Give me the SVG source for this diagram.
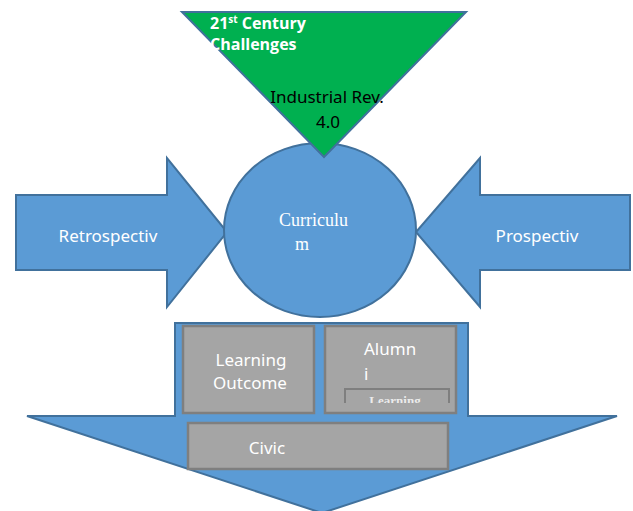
<svg xmlns="http://www.w3.org/2000/svg" width="633" height="511" viewBox="0 0 633 511">
<style>
.blue{fill:#5B9BD5;stroke:#41719C;stroke-width:2;stroke-linejoin:miter}
.gray{fill:#A5A5A5;stroke:#7F7F7F;stroke-width:2.5}
.t{font-family:"Noto Sans","Open Sans","Liberation Sans",sans-serif;font-size:17px;fill:#FFFFFF}
.serif{font-family:"Liberation Serif","DejaVu Serif",serif;fill:#FFFFFF}
</style>
<defs>
<clipPath id="clipLearn"><rect x="340" y="384" width="115" height="19"/></clipPath>
</defs>
<g id="connectors"/>
<g id="retrospective">
<polygon class="blue" points="16,195 167,195 167,158 227,232 167,307 167,270 16,270"/>
<text class="t" x="108" y="242" text-anchor="middle">Retrospectiv</text>
</g>
<g id="prospective">
<polygon class="blue" points="630,195 480,195 480,158 416,232 480,307 480,270 630,270"/>
<text class="t" x="537" y="242" text-anchor="middle">Prospectiv</text>
</g>
<g id="curriculum">
<ellipse class="blue" cx="320" cy="230" rx="96" ry="87"/>
<text class="serif" font-size="18" x="279" y="226">Curriculu</text>
<text class="serif" font-size="18" x="295" y="250">m</text>
</g>
<g id="challenges">
<polygon points="182,12 466,12 324,157" fill="#00B050" stroke="#41719C" stroke-width="2"/>
<text font-family="'Open Sans','Noto Sans','Liberation Sans',sans-serif" font-weight="bold" font-size="16" fill="#FFFFFF" x="210" y="29">21<tspan font-size="10" dy="-6">st</tspan><tspan dy="6"> Century</tspan></text>
<text font-family="'Open Sans','Noto Sans','Liberation Sans',sans-serif" font-weight="bold" font-size="16" fill="#FFFFFF" x="210" y="50">Challenges</text>
<text class="t" style="fill:#000000" x="327" y="103" text-anchor="middle">Industrial Rev.</text>
<text class="t" style="fill:#000000" x="328" y="128" text-anchor="middle">4.0</text>
</g>
<g id="outcomes-arrow">
<polygon class="blue" points="175,323 468,323 468,416 617,416 322,513 27,416 175,416"/>
</g>
<g id="learning-outcome">
<rect class="gray" x="183" y="326" width="131" height="87"/>
<text class="t" x="251" y="366" text-anchor="middle">Learning</text>
<text class="t" x="250" y="389" text-anchor="middle">Outcome</text>
</g>
<g id="alumni">
<rect class="gray" x="325" y="326" width="131" height="87"/>
<text class="t" x="364" y="355">Alumn</text>
<text class="t" x="364" y="380">i</text>
<g clip-path="url(#clipLearn)">
<polyline points="345,403 345,389 449,389 449,403" fill="none" stroke="#7F7F7F" stroke-width="2"/>
<text class="serif" font-size="13" font-weight="bold" x="395" y="405" text-anchor="middle" fill-opacity="0.8">Learning</text>
</g>
</g>
<g id="civic">
<rect class="gray" x="188" y="423" width="260" height="46"/>
<text class="t" x="267" y="454" text-anchor="middle">Civic</text>
</g>
</svg>
